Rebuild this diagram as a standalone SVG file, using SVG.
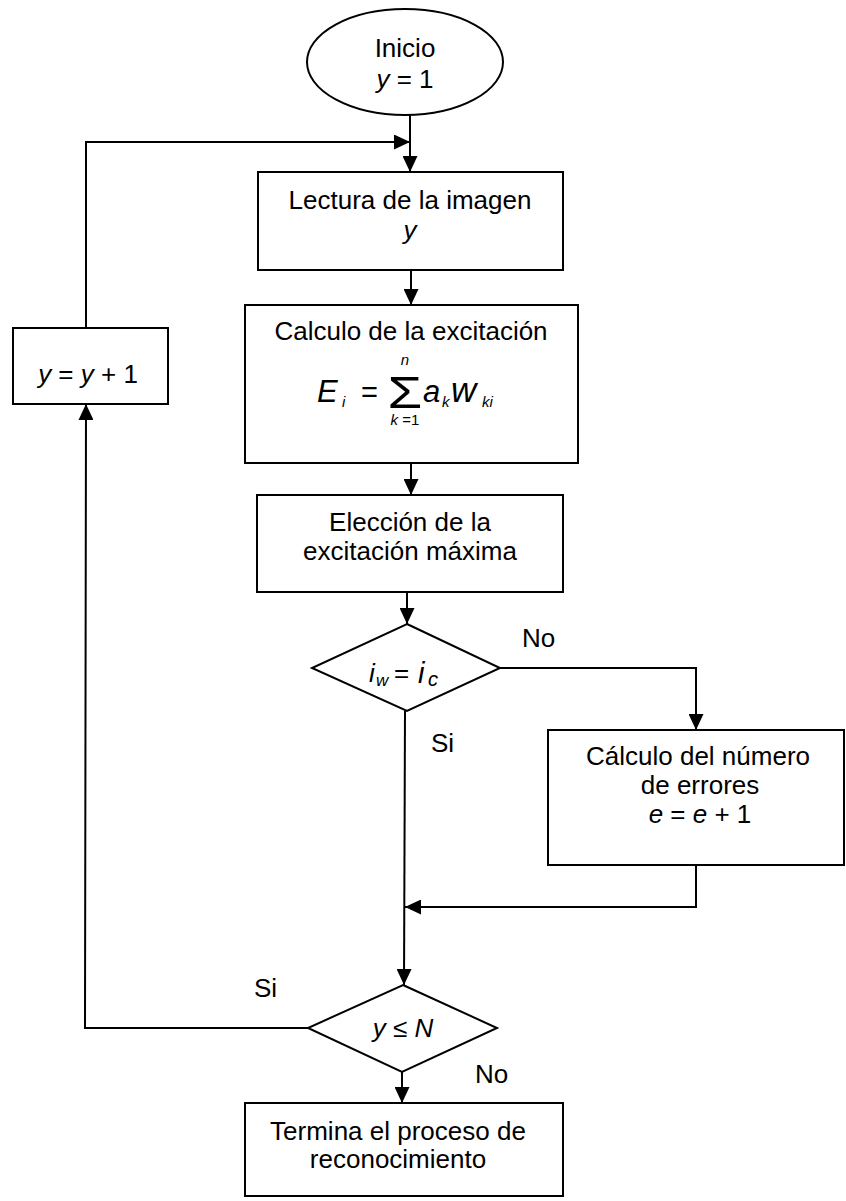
<svg xmlns="http://www.w3.org/2000/svg" width="846" height="1201" viewBox="0 0 846 1201">
  <style>
    .shape { fill: #fff; stroke: #000; stroke-width: 2; }
    .wire { fill: none; stroke: #000; stroke-width: 2; }
    text { font-family: "Liberation Sans", Arial, sans-serif; font-size: 26px; fill: #000; }
    .c { text-anchor: middle; }
    .it { font-style: italic; }
    .sub { font-size: 15px; font-style: italic; }
    .big { font-size: 31px; font-style: italic; }
  </style>
  <defs>
    <marker id="arrow" markerUnits="userSpaceOnUse" markerWidth="16" markerHeight="15" refX="16" refY="7.5" orient="auto">
      <path d="M0,0 L16,7.5 L0,15 z" fill="#000"/>
    </marker>
  </defs>

  <g id="connectors">
    <line class="wire" x1="410" y1="115" x2="410" y2="172" marker-end="url(#arrow)"/>
    <path class="wire" d="M86,328 L86,142 L410,142" marker-end="url(#arrow)"/>
    <line class="wire" x1="411" y1="270" x2="411" y2="305" marker-end="url(#arrow)"/>
    <line class="wire" x1="411" y1="463" x2="411" y2="495" marker-end="url(#arrow)"/>
    <line class="wire" x1="407" y1="592" x2="407" y2="624" marker-end="url(#arrow)"/>
    <path class="wire" d="M500,668 L696,668 L696,730" marker-end="url(#arrow)"/>
    <path class="wire" d="M696,865 L696,907 L405,907" marker-end="url(#arrow)"/>
    <line class="wire" x1="405" y1="711" x2="404" y2="985" marker-end="url(#arrow)"/>
    <line class="wire" x1="402" y1="1072" x2="402" y2="1103" marker-end="url(#arrow)"/>
    <path class="wire" d="M308,1028 L85,1028 L86,404" marker-end="url(#arrow)"/>
  </g>

  <g id="inicio">
    <ellipse class="shape" cx="405" cy="62" rx="98" ry="53"/>
    <text class="c" x="405" y="57">Inicio</text>
    <text class="c" x="405" y="88"><tspan class="it">y</tspan> = 1</text>
  </g>

  <g id="lectura">
    <rect class="shape" x="258" y="172" width="305" height="98"/>
    <text class="c" x="410" y="209">Lectura de la imagen</text>
    <text class="c it" x="410" y="239">y</text>
  </g>

  <g id="calculo-excitacion">
    <rect class="shape" x="245" y="305" width="333" height="158"/>
    <text class="c" x="411" y="340">Calculo de la excitación</text>
    <text class="big" x="317" y="402">E</text>
    <text class="sub" x="342" y="407">i</text>
    <text x="361" y="402" style="font-size:29px">=</text>
    <text x="405" y="408" text-anchor="middle" transform="translate(405,0) scale(1.25,1) translate(-405,0)" style="font-size:45px">Σ</text>
    <text class="c sub" x="405" y="365">n</text>
    <text class="c" x="405" y="425" style="font-size:15px"><tspan class="it">k</tspan> =1</text>
    <text class="big" x="423" y="402">a</text>
    <text class="sub" x="442" y="407">k</text>
    <text class="big" x="451" y="402" style="font-size:35px">w</text>
    <text class="sub" x="482" y="407">ki</text>
  </g>

  <g id="eleccion">
    <rect class="shape" x="257" y="495" width="306" height="97"/>
    <text class="c" x="410" y="531">Elección de la</text>
    <text class="c" x="410" y="560">excitación máxima</text>
  </g>

  <g id="decision-clase">
    <polygon class="shape" points="407,624 500,668 407,711 312,668"/>
    <text class="it" x="369" y="682">i</text>
    <text class="it" x="376" y="686" style="font-size:17px">w</text>
    <text x="394" y="682">=</text>
    <text class="it" x="418" y="683" style="font-size:29px">i</text>
    <text class="it" x="428" y="686" style="font-size:20px">c</text>
  </g>

  <g id="errores">
    <rect class="shape" x="548" y="730" width="296" height="135"/>
    <text class="c" x="698" y="765">Cálculo del número</text>
    <text class="c" x="700" y="794">de errores</text>
    <text class="c" x="700" y="823"><tspan class="it">e</tspan> = <tspan class="it">e</tspan> + 1</text>
  </g>

  <g id="incremento">
    <rect class="shape" x="13" y="328" width="155" height="76"/>
    <text class="c" x="88" y="383"><tspan class="it">y</tspan> = <tspan class="it">y</tspan> + 1</text>
  </g>

  <g id="decision-fin">
    <polygon class="shape" points="403,985 497,1028 402,1072 308,1028"/>
    <text class="c it" x="403" y="1037">y ≤ N</text>
  </g>

  <g id="termina">
    <rect class="shape" x="245" y="1103" width="318" height="93"/>
    <text class="c" x="398" y="1140">Termina el proceso de</text>
    <text class="c" x="398" y="1168">reconocimiento</text>
  </g>

  <g id="labels">
    <text x="522" y="647">No</text>
    <text x="431" y="752">Si</text>
    <text x="254" y="997">Si</text>
    <text x="475" y="1083">No</text>
  </g>
</svg>
